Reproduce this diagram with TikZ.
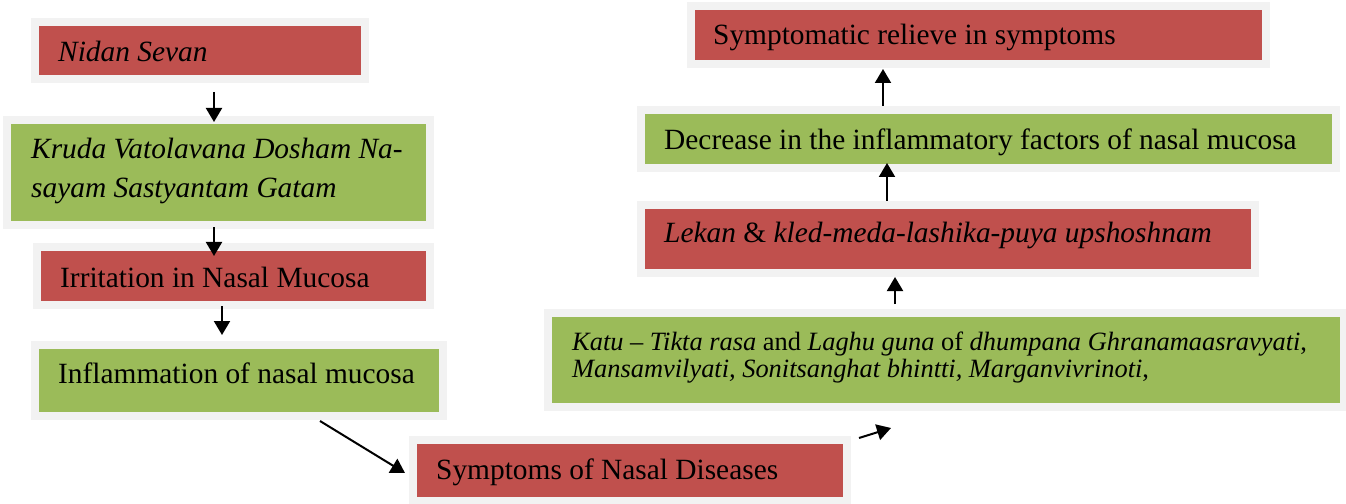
\documentclass[tikz,border=0pt]{standalone}
\usepackage{fontspec}
\setmainfont{Liberation Serif}[ItalicFont={Liberation Serif Italic},BoldFont={Liberation Serif Bold}]
\usetikzlibrary{arrows.meta,calc}
\definecolor{boxred}{HTML}{C0504D}
\definecolor{boxgreen}{HTML}{9BBB59}
\definecolor{framegray}{HTML}{F2F2F2}
\tikzset{
  fbox/.style={rectangle, draw=framegray, line width=8bp, inner sep=0pt, minimum width=#1},
  redbox/.style={fbox=#1, fill=boxred},
  greenbox/.style={fbox=#1, fill=boxgreen},
  txt/.style={inner sep=0pt, anchor=base west, font=\fontsize{29.5}{39}\selectfont},
  smalltxt/.style={inner sep=0pt, anchor=base west, font=\fontsize{26.5}{26}\selectfont},
  arr/.style={line width=2bp, -{Triangle[width=16bp,length=14bp]}}
}
\begin{document}
\begin{tikzpicture}[x=1bp,y=-1bp]
\useasboundingbox (0,0) rectangle (1346,504);
% boxes (midline of the frame)
\node[redbox=330bp, minimum height=57bp] (nidan) at (200,50.5) {};
\node[greenbox=423bp, minimum height=105bp] (kruda) at (218.5,172.5) {};
\node[redbox=393bp, minimum height=58bp] (irr) at (233.5,276) {};
\node[greenbox=408bp, minimum height=71bp] (infl) at (239,380.5) {};
\node[redbox=434bp, minimum height=61bp] (symp) at (630,470.5) {};
\node[greenbox=796bp, minimum height=94bp] (katu) at (946,360) {};
\node[redbox=614bp, minimum height=68bp] (lekan) at (948,239) {};
\node[greenbox=695bp, minimum height=58bp] (decr) at (988.5,139) {};
\node[redbox=575bp, minimum height=58bp] (relief) at (978.5,35) {};
% texts
\node[txt] (tnidan) at (58,62) {\textit{Nidan Sevan}};
\node[txt] (tkruda1) at (31,159) {\textit{Kruda Vatolavana Dosham Na-}};
\node[txt] (tkruda2) at (31,198) {\textit{sayam Sastyantam Gatam}};
\node[txt] (tirr) at (60,287) {Irritation in Nasal Mucosa};
\node[txt] (tinfl) at (58,383) {Inflammation of nasal mucosa};
\node[txt] (tsymp) at (436,479) {Symptoms of Nasal Diseases};
\node[smalltxt] (tkatu1) at (572,350) {\textit{Katu -- Tikta rasa} and \textit{Laghu guna} of \textit{dhumpana Ghranamaasravyati},};
\node[smalltxt] (tkatu2) at (572,377) {\textit{Mansamvilyati, Sonitsanghat bhintti, Marganvivrinoti},};
\node[txt] (tlekan) at (664,243) {\textit{Lekan} \& \textit{kled-meda-lashika-puya upshoshnam}};
\node[txt] (tdecr) at (664,150) {Decrease in the inflammatory factors of nasal mucosa};
\node[txt] (trelief) at (713,45) {Symptomatic relieve in symptoms};
% arrows
\draw[arr] ($(nidan.south)+(14,9)$) -- ($(kruda.north)+(-4.5,6)$);
\draw[arr] ($(kruda.south)+(-4.5,-2)$) -- ($(irr.north)+(-19.5,13)$);
\draw[arr] ($(irr.south)+(-11.5,-3)$) -- ($(infl.north)+(-17,-6)$);
\draw[arr] ($(infl.south)+(81,1)$) -- ($(symp.west)+(-4,2.5)$);
\draw[arr] ($(symp.north east)+(8,2)$) -- ($(katu.south west)+(347,17)$);
\draw[arr] ($(katu.north)+(-51,-5)$) -- ($(lekan.south)+(-53,0)$);
\draw[arr] ($(lekan.north)+(-61,0)$) -- ($(decr.south)+(-101.5,-9)$);
\draw[arr] ($(decr.north)+(-105.5,0)$) -- ($(relief.south)+(-95.5,1)$);
\end{tikzpicture}
\end{document}
